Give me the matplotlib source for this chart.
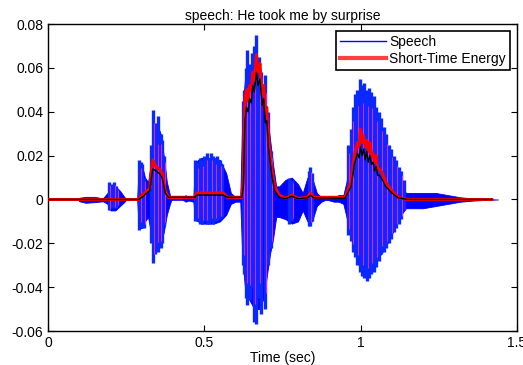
import matplotlib
matplotlib.use('Agg')
import matplotlib.pyplot as plt

plt.rcParams['font.family'] = ['Liberation Sans', 'DejaVu Sans']

# dense body of the waveform (upper / lower envelope)
env_t = [0.0, 0.095, 0.10, 0.12, 0.15, 0.175, 0.19, 0.20, 0.215, 0.23, 0.245, 0.25,
         0.285, 0.29, 0.30, 0.31, 0.32, 0.33, 0.34, 0.35, 0.36, 0.37, 0.38, 0.39, 0.395,
         0.43, 0.44, 0.45, 0.465, 0.47, 0.49, 0.51, 0.53, 0.55, 0.57, 0.585, 0.60,
         0.615, 0.622, 0.63, 0.645, 0.66, 0.675, 0.69, 0.70, 0.71, 0.72, 0.73,
         0.74, 0.76, 0.78, 0.80, 0.815, 0.83, 0.845, 0.86, 0.875, 0.89,
         0.915, 0.93, 0.945, 0.955, 0.97, 0.99, 1.01, 1.03, 1.05, 1.07, 1.09, 1.11,
         1.13, 1.145, 1.16, 1.20, 1.24, 1.28, 1.32, 1.36, 1.40, 1.44]
env_hi = [0.0, 0.0, 0.0008, 0.0012, 0.0012, 0.0005, 0.003, 0.006, 0.006, 0.004, 0.001, 0.0,
          0.0, 0.015, 0.016, 0.010, 0.008, 0.018, 0.032, 0.034, 0.030, 0.020, 0.008, 0.002, 0.0,
          0.0, 0.002, 0.0005, 0.001, 0.017, 0.019, 0.019, 0.019, 0.018, 0.012, 0.003, 0.001,
          0.001, 0.040, 0.055, 0.058, 0.062, 0.058, 0.050, 0.040, 0.028, 0.016, 0.006,
          0.006, 0.009, 0.010, 0.007, 0.003, 0.010, 0.010, 0.003, 0.001, 0.0,
          0.001, 0.002, 0.002, 0.008, 0.022, 0.038, 0.044, 0.042, 0.036, 0.029, 0.020, 0.014,
          0.008, 0.003, 0.003, 0.003, 0.003, 0.002, 0.001, 0.0005, 0.0002, 0.0]
env_lo = [0.0, 0.0, -0.0008, -0.0015, -0.0012, -0.0008, -0.002, -0.005, -0.005, -0.003, -0.001, 0.0,
          0.0, -0.013, -0.013, -0.010, -0.008, -0.016, -0.022, -0.023, -0.021, -0.015, -0.007, -0.002, 0.0,
          0.0, -0.001, -0.0005, -0.001, -0.009, -0.011, -0.011, -0.011, -0.010, -0.007, -0.002, -0.001,
          -0.001, -0.028, -0.040, -0.046, -0.050, -0.050, -0.045, -0.035, -0.025, -0.018, -0.008,
          -0.008, -0.009, -0.011, -0.010, -0.005, -0.010, -0.010, -0.003, -0.001, 0.0,
          -0.001, -0.001, -0.002, -0.008, -0.018, -0.026, -0.031, -0.031, -0.028, -0.024, -0.019, -0.013,
          -0.007, -0.004, -0.004, -0.004, -0.003, -0.002, -0.001, -0.0005, -0.0002, 0.0]

# individual pitch spikes
spike_t = [0.196, 0.203, 0.210, 0.216, 0.222,
           0.290, 0.296, 0.302, 0.307, 0.330, 0.335, 0.343, 0.348, 0.353, 0.360, 0.365, 0.372,
           0.470, 0.478, 0.485, 0.492, 0.500, 0.507, 0.514, 0.521, 0.528, 0.535, 0.542, 0.550, 0.557,
           0.624, 0.628, 0.633, 0.637, 0.645, 0.652, 0.660, 0.667, 0.675, 0.683, 0.694, 0.705, 0.715,
           0.770, 0.780, 0.834, 0.838, 0.845,
           0.960, 0.968, 0.975, 0.983, 0.990, 0.997, 1.005, 1.012, 1.020, 1.027, 1.035, 1.043,
           1.050, 1.058, 1.066, 1.074, 1.082, 1.090, 1.098, 1.106, 1.114, 1.122, 1.130, 1.140]
spike_hi = [0.008, 0.007, 0.008, 0.006, 0.005,
            0.018, 0.017, 0.016, 0.010, 0.025, 0.041, 0.035, 0.030, 0.038, 0.030, 0.027, 0.020,
            0.018, 0.017, 0.019, 0.018, 0.020, 0.021, 0.019, 0.021, 0.020, 0.019, 0.020, 0.018, 0.016,
            0.045, 0.050, 0.060, 0.068, 0.062, 0.067, 0.070, 0.075, 0.065, 0.058, 0.057, 0.040, 0.022,
            0.010, 0.009, 0.013, 0.015, 0.012,
            0.025, 0.032, 0.042, 0.048, 0.050, 0.055, 0.052, 0.053, 0.050, 0.051, 0.049, 0.047,
            0.042, 0.040, 0.037, 0.033, 0.030, 0.025, 0.023, 0.020, 0.018, 0.015, 0.013, 0.009]
spike_lo = [-0.005, -0.004, -0.004, -0.004, -0.003,
            -0.014, -0.012, -0.013, -0.013, -0.020, -0.029, -0.025, -0.023, -0.024, -0.022, -0.020, -0.012,
            -0.010, -0.010, -0.011, -0.011, -0.010, -0.011, -0.011, -0.010, -0.011, -0.010, -0.010, -0.009, -0.008,
            -0.030, -0.034, -0.045, -0.048, -0.046, -0.040, -0.056, -0.057, -0.045, -0.052, -0.050, -0.030, -0.022,
            -0.011, -0.010, -0.012, -0.012, -0.010,
            -0.016, -0.019, -0.024, -0.026, -0.030, -0.033, -0.035, -0.036, -0.037, -0.036, -0.034, -0.033,
            -0.031, -0.028, -0.025, -0.024, -0.022, -0.020, -0.018, -0.015, -0.013, -0.011, -0.009, -0.005]

# short-time energy (red) and its smoother companion (black)
ste_t = [0.0, 0.29, 0.30, 0.325, 0.335, 0.345, 0.355, 0.365, 0.375, 0.385, 0.47, 0.475,
         0.56, 0.575, 0.62, 0.625, 0.63, 0.635, 0.64, 0.645, 0.65, 0.655, 0.66, 0.667, 0.672,
         0.678, 0.685, 0.69, 0.695, 0.70, 0.705, 0.715, 0.725, 0.74, 0.76, 0.78, 0.80, 0.83,
         0.84, 0.85, 0.95, 0.97, 0.98, 0.99, 0.995, 1.0, 1.005, 1.01, 1.015, 1.02, 1.025,
         1.03, 1.035, 1.04, 1.045, 1.05, 1.055, 1.06, 1.07, 1.08, 1.10, 1.12, 1.15, 1.42]
ste = [0.0, 0.0, 0.002, 0.005, 0.018, 0.015, 0.014, 0.012, 0.004, 0.001, 0.001, 0.003,
       0.003, 0.001, 0.001, 0.010, 0.046, 0.050, 0.045, 0.052, 0.050, 0.058, 0.054, 0.066, 0.058,
       0.062, 0.048, 0.052, 0.040, 0.042, 0.028, 0.015, 0.006, 0.002, 0.0005, 0.002, 0.0005, 0.001,
       0.003, 0.001, 0.001, 0.008, 0.020, 0.026, 0.024, 0.032, 0.026, 0.029, 0.024, 0.027, 0.022,
       0.026, 0.020, 0.021, 0.017, 0.020, 0.014, 0.014, 0.012, 0.008, 0.004, 0.001, 0.0, 0.0]
blk = [0.0, 0.0, 0.001, 0.004, 0.014, 0.013, 0.012, 0.010, 0.003, 0.001, 0.001, 0.002,
       0.002, 0.001, 0.001, 0.006, 0.036, 0.042, 0.040, 0.046, 0.044, 0.052, 0.049, 0.058, 0.052,
       0.055, 0.043, 0.046, 0.035, 0.036, 0.024, 0.012, 0.004, 0.001, 0.0003, 0.0015, 0.0003, 0.0008,
       0.002, 0.0008, 0.0005, 0.006, 0.016, 0.021, 0.019, 0.024, 0.020, 0.023, 0.018, 0.022, 0.017,
       0.020, 0.016, 0.017, 0.013, 0.015, 0.011, 0.011, 0.009, 0.006, 0.003, 0.0008, 0.0, 0.0]

x_ticks = [0, 0.5, 1, 1.5]
x_labels = ['0', '0.5', '1', '1.5']
y_ticks = [-0.06, -0.04, -0.02, 0, 0.02, 0.04, 0.06, 0.08]
y_labels = ['-0.06', '-0.04', '-0.02', '0', '0.02', '0.04', '0.06', '0.08']

fig = plt.figure(figsize=(5.23, 3.65), dpi=100)
ax = fig.add_axes([0.092, 0.093, 0.896, 0.841])

ax.plot([0, 1.42], [0, 0], color='red', lw=1.2, zorder=1)
ax.fill_between(env_t, env_lo, env_hi, color='#0000ff', lw=0.6, edgecolor='#0000ff', zorder=2)
ax.vlines(spike_t, spike_lo, spike_hi, color='#0a28ff', lw=2.4, zorder=2)
ax.vlines([t + 0.0025 for t in spike_t[::2]], [v * 0.85 for v in spike_lo[::2]],
          [v * 0.85 for v in spike_hi[::2]], color='#d824f0', lw=0.8, zorder=2)
ax.plot(ste_t, ste, color='red', lw=2.2, zorder=3)
ax.plot(ste_t, blk, color='black', lw=1.0, zorder=4)

# legend proxies
ax.plot([], [], color='blue', lw=1.0, label='Speech')
ax.plot([], [], color='#ff4040', lw=3.0, label='Short-Time Energy')
leg = ax.legend(loc='upper right', fontsize=10, frameon=True, fancybox=False,
                handlelength=3.3, borderaxespad=0.5, handletextpad=0.2,
                labelspacing=0.2, borderpad=0.3)
leg.get_frame().set_edgecolor('black')
leg.get_frame().set_linewidth(1.2)
leg.get_frame().set_alpha(1.0)

ax.set_xlim(0, 1.5)
ax.set_ylim(-0.06, 0.08)
ax.set_xticks(x_ticks)
ax.set_xticklabels(x_labels)
ax.set_yticks(y_ticks)
ax.set_yticklabels(y_labels)
ax.tick_params(direction='in', top=True, right=True, labelsize=10, length=4)
for s in ax.spines.values():
    s.set_linewidth(1.0)

ax.set_title('speech: He took me by surprise', fontsize=10, pad=3)
ax.set_xlabel('Time (sec)', fontsize=10, labelpad=1)

fig.savefig('out.png', dpi=100)
